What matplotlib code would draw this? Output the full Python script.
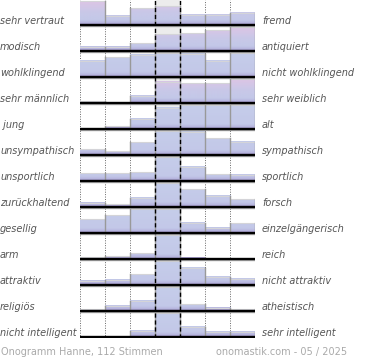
import numpy as np
import matplotlib.pyplot as plt
from matplotlib.colors import LinearSegmentedColormap

left_labels = ['sehr vertraut', 'modisch', 'wohlklingend', 'sehr männlich', ' jung',
               'unsympathisch', 'unsportlich', 'zurückhaltend', 'gesellig', 'arm',
               'attraktiv', 'religiös', 'nicht intelligent']
right_labels = ['fremd', 'antiquiert', 'nicht wohlklingend', 'sehr weiblich', 'alt',
                'sympathisch', 'sportlich', 'forsch', 'einzelgängerisch', 'reich',
                'nicht attraktiv', 'atheistisch', 'sehr intelligent']

# relative vote shares for the 7 steps of each scale
row_vertraut = [100, 38, 70, 79, 42, 42, 51]
row_modisch = [18, 18, 32, 70, 74, 86, 100]
row_klang = [68, 82, 93, 100, 96, 68, 99]
row_geschlecht = [8, 0, 30, 89, 83, 83, 100]
row_alter = [0, 11, 42, 88, 100, 99, 99]
row_sympathie = [24, 15, 53, 100, 97, 70, 55]
row_sport = [32, 32, 37, 100, 60, 28, 27]
row_forsch = [18, 11, 39, 100, 75, 47, 33]
row_gesellig = [57, 75, 99, 100, 43, 22, 40]
row_reich = [8, 12, 24, 100, 5, 2, 2]
row_attraktiv = [18, 22, 45, 100, 72, 35, 26]
row_religion = [8, 21, 43, 100, 28, 14, 8]
row_intelligenz = [1, 1, 26, 100, 43, 22, 21]

rows = [row_vertraut, row_modisch, row_klang, row_geschlecht, row_alter,
        row_sympathie, row_sport, row_forsch, row_gesellig, row_reich,
        row_attraktiv, row_religion, row_intelligenz]

footer_left = 'Onogramm Hanne, 112 Stimmen'
footer_right = 'onomastik.com - 05 / 2025'

pink_rows = [0, 1, 3]

# layout in pixels
W, H = 370, 360
X0, X1 = 80, 255
TOP, BOTTOM = 0, 338
PITCH = 26
MAXH = 24

cmap_blue = LinearSegmentedColormap.from_list(
    'blue', [(0, '#a393cb'), (0.08, '#b6b4de'), (0.2, '#c3c8e8'), (1, '#c5cdea')])
cmap_pink = LinearSegmentedColormap.from_list(
    'pink', [(0, '#a393cb'), (0.08, '#b6b4de'), (0.2, '#c3c8e8'), (0.55, '#c9c8e8'),
             (1, '#ddc5e5')])

fig = plt.figure(figsize=(W / 100, H / 100), dpi=100)
ax = fig.add_axes([X0 / W, (H - BOTTOM) / H, (X1 - X0) / W, (BOTTOM - TOP) / H])
ax.axis('off')

span = BOTTOM - TOP
ax.axvspan(3, 4, color='#ececec', zorder=0)
for x in [0, 1, 2, 5, 6, 7]:
    ax.plot([x, x], [0, span], color='#666666', lw=0.7, ls=(0, (1, 1.5)), zorder=1)

for i, vals in enumerate(rows):
    base = span - 25 - PITCH * i
    vals = np.array(vals, dtype=float)
    heights = vals / vals.max() * MAXH
    cmap = cmap_pink if i in pink_rows else cmap_blue
    for k, h in enumerate(heights):
        if h <= 0:
            continue
        grad = np.linspace(0, h / MAXH, 60).reshape(-1, 1)
        ax.imshow(grad, cmap=cmap, vmin=0, vmax=1, origin='lower', aspect='auto',
                  extent=(k, k + 1, base, base + h), interpolation='bilinear', zorder=2)
        ax.plot([k, k + 1], [base + h, base + h], color='#d4d4d8', lw=0.8, zorder=3)
    padded = np.concatenate([[0], heights, [0]])
    for k in range(1, 8):
        top = max(padded[k], padded[k + 1])
        if top > 0:
            ax.plot([k, k], [base, base + top], color='#999999', lw=1, zorder=3)
    ax.plot([0, 7], [base - 1.3, base - 1.3], color='#aaaaaa', lw=1, zorder=4)
    ax.plot([0, 7], [base, base], color='black', lw=1.7, zorder=5)

    ax.text(-80 / 25, base + 1.5, left_labels[i], ha='left', va='baseline',
            fontsize=7, style='italic', color='#555555', clip_on=False)
    ax.text((262 - X0) / 25, base + 1.5, right_labels[i], ha='left', va='baseline',
            fontsize=7, style='italic', color='#555555', clip_on=False)

for x in [3, 4]:
    ax.plot([x, x], [0, span], color='black', lw=1, ls=(0, (3, 2)), zorder=6)

ax.set_xlim(0, 7)
ax.set_ylim(0, span)

fig.text(1 / W, 1 - 352 / H, footer_left, ha='left', va='center', fontsize=7,
         color='#aaaaaa')
fig.text(347 / W, 1 - 352 / H, footer_right, ha='right', va='center', fontsize=7,
         color='#aaaaaa')

fig.savefig('out.png', dpi=100)
